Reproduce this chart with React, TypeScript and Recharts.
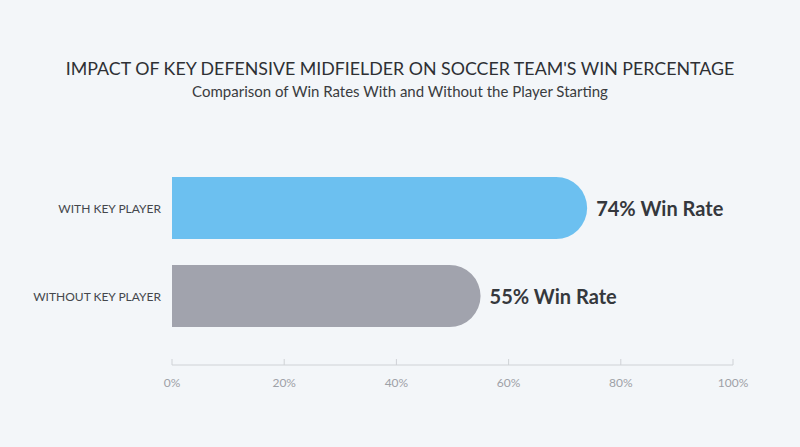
import { BarChart, Bar, XAxis, YAxis, Cell, LabelList } from "recharts";

const categories = ["WITH KEY PLAYER", "WITHOUT KEY PLAYER"];
const winRates = [74, 55];
const barColors = ["#6cc0f0", "#a1a3ad"];
const xTicks = [0, 20, 40, 60, 80, 100];

const data = categories.map((name, i) => ({ name, rate: winRates[i] }));

const FONT = "Lato, 'Open Sans', sans-serif";

function ValueLabel(props: any) {
  const { x, y, width, height, value } = props;
  return (
    <text
      x={x + width + 9}
      y={y + height / 2}
      dominantBaseline="central"
      fill="#35383d"
      fontSize={20}
      fontWeight={700}
      fontFamily={FONT}
    >
      {value}% Win Rate
    </text>
  );
}

function CategoryTick(props: any) {
  const { x, y, payload } = props;
  return (
    <text
      x={x}
      y={y}
      textAnchor="end"
      dominantBaseline="central"
      fill="#44474c"
      fontSize={12}
      fontFamily={FONT}
    >
      {payload.value}
    </text>
  );
}

export default function App() {
  return (
    <div
      style={{
        position: "fixed",
        left: 0,
        top: 0,
        width: 800,
        height: 447,
        background: "#f3f6f9",
        fontFamily: FONT,
      }}
    >
      <style>{"body{margin:0}"}</style>
      <div
        style={{
          position: "absolute",
          top: 57,
          width: 800,
          textAlign: "center",
          fontSize: 17.8,
          color: "#2e3034",
        }}
      >
        IMPACT OF KEY DEFENSIVE MIDFIELDER ON SOCCER TEAM'S WIN PERCENTAGE
      </div>
      <div
        style={{
          position: "absolute",
          top: 82,
          width: 800,
          textAlign: "center",
          fontSize: 15,
          color: "#3a3c40",
        }}
      >
        Comparison of Win Rates With and Without the Player Starting
      </div>
      <div style={{ position: "absolute", left: 0, top: 0 }}>
        <BarChart
          width={800}
          height={447}
          data={data}
          layout="vertical"
          margin={{ top: 164, right: 67, bottom: 52, left: 12 }}
          barSize={62}
        >
          <XAxis
            type="number"
            domain={[0, 100]}
            ticks={xTicks}
            tickFormatter={(v) => `${v}%`}
            height={30}
            stroke="#cfd2d6"
            tickSize={-6}
            tickMargin={19}
            tick={{ fill: "#9ea1a7", fontSize: 12, fontFamily: FONT }}
          />
          <YAxis
            type="category"
            dataKey="name"
            width={160}
            axisLine={false}
            tickLine={false}
            tickMargin={5}
            padding={{ top: 0, bottom: 25 }}
            tick={<CategoryTick />}
          />
          <Bar dataKey="rate" radius={[0, 31, 31, 0]} isAnimationActive={false}>
            {data.map((_, i) => (
              <Cell key={i} fill={barColors[i]} />
            ))}
            <LabelList dataKey="rate" content={<ValueLabel />} />
          </Bar>
        </BarChart>
      </div>
    </div>
  );
}
